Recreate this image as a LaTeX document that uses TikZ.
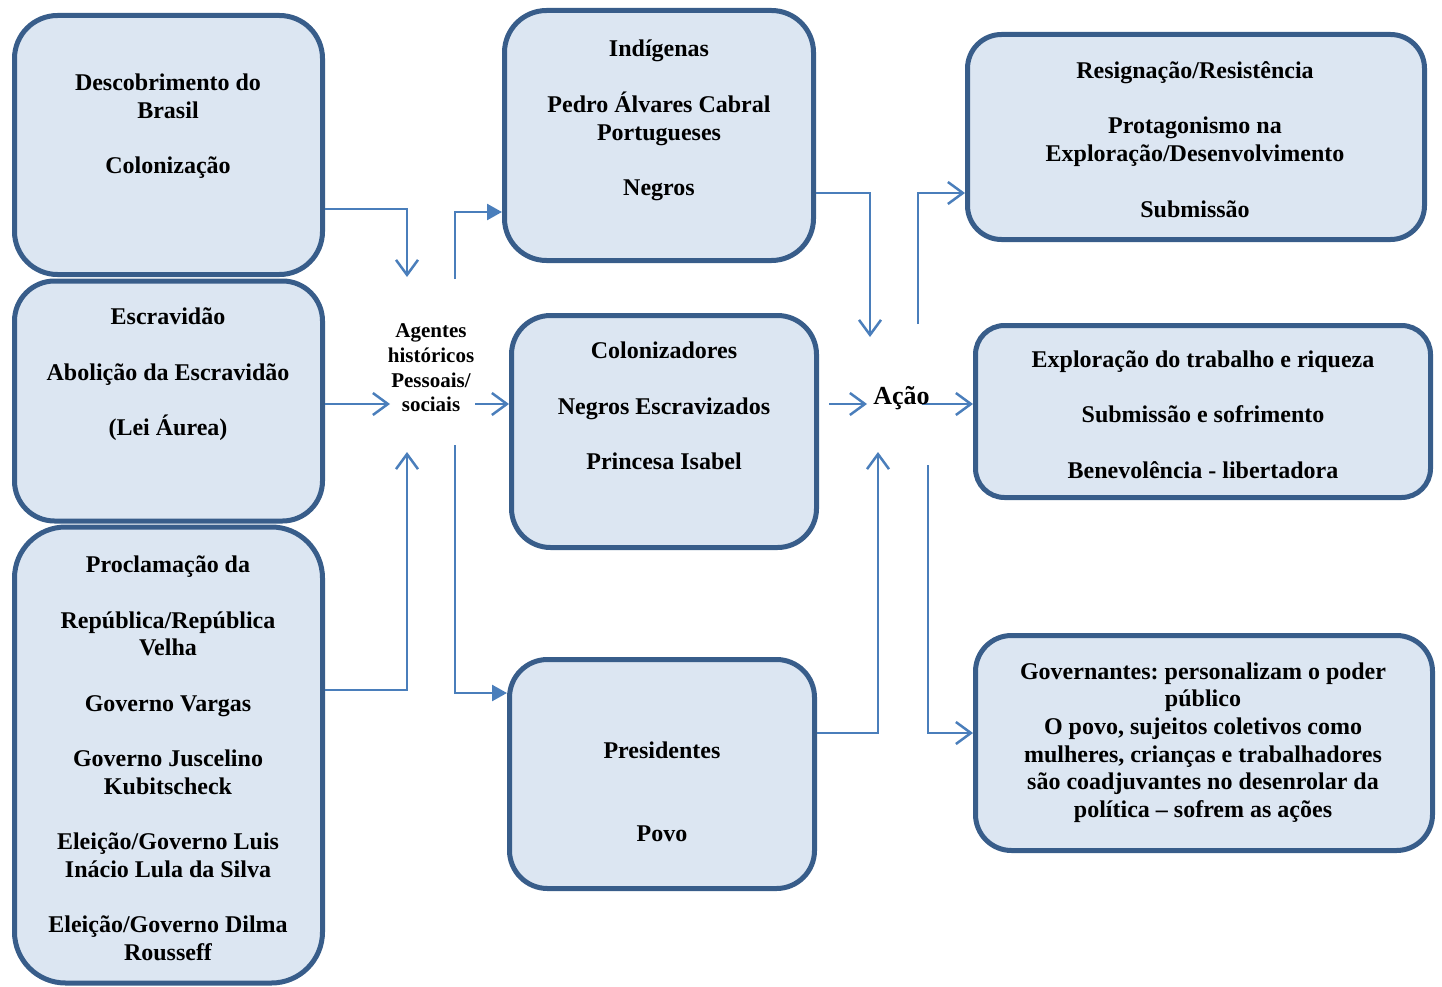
\documentclass[tikz,border=0pt]{standalone}
\usepackage{fontspec}
\setmainfont{Liberation Serif}
\usetikzlibrary{arrows.meta,calc}
\definecolor{boxfill}{HTML}{DCE6F2}
\definecolor{boxline}{HTML}{385D8A}
\definecolor{conncol}{HTML}{4A7EBB}
\frenchspacing
\begin{document}
\begin{tikzpicture}[x=1pt,y=-1pt,
  box/.style={draw=boxline,fill=boxfill,line width=5pt,rectangle,inner sep=0pt},
  txt/.style={font=\fontsize{24}{27.7}\selectfont\bfseries,align=center,inner sep=0pt},
  conn/.style={draw=conncol,line width=2.5pt},
  barb/.style={conn,-{Straight Barb[length=15pt,width=22pt,line width=2.5pt]}},
  tri/.style={conn,-{Triangle[length=15pt,width=16pt]}}
]
\useasboundingbox (0,0) rectangle (1442,987);
% boxes
\node[box,minimum width=308pt,minimum height=259pt,rounded corners=43pt] (b1) at (168.5,145) {};
\node[box,minimum width=308pt,minimum height=240pt,rounded corners=40pt] (b2) at (168.5,401) {};
\node[box,minimum width=308pt,minimum height=456pt,rounded corners=51pt] (b3) at (168.5,755) {};
\node[box,minimum width=309pt,minimum height=250pt,rounded corners=42pt] (b4) at (659,135.5) {};
\node[box,minimum width=305pt,minimum height=232pt,rounded corners=39pt] (b5) at (664,431.5) {};
\node[box,minimum width=305pt,minimum height=229pt,rounded corners=38pt] (b6) at (662,774) {};
\node[box,minimum width=457pt,minimum height=205pt,rounded corners=34pt] (b7) at (1196,137) {};
\node[box,minimum width=455pt,minimum height=172pt,rounded corners=29pt] (b8) at (1203,411.5) {};
\node[box,minimum width=457pt,minimum height=215pt,rounded corners=36pt] (b9) at (1204,743) {};
% free ends
\coordinate (tA1) at (407,277);
\coordinate (tA2) at (390,404);
\coordinate (tA3) at (407,452);
\coordinate (sA1) at (455,279);
\coordinate (sA2) at (475,404);
\coordinate (sA3) at (455,445);
\coordinate (tB1) at (870,337);
\coordinate (sB0) at (829,404);
\coordinate (tB2) at (867,404);
\coordinate (tB3) at (878,452);
\coordinate (sB1) at (918,324);
\coordinate (sB2) at (922,404);
\coordinate (sB3) at (928,465);
% connectors
\draw[barb] ([yshift=-64pt]b1.east) -| (tA1);
\draw[barb] ([yshift=-3pt]b2.east) -- (tA2);
\draw[barb] ([yshift=65pt]b3.east) -| (tA3);
\draw[tri] (sA1) |- ([yshift=-76.5pt]b4.west);
\draw[barb] (sA2) -- ([yshift=27.5pt]b5.west);
\draw[tri] (sA3) |- ([yshift=81pt]b6.west);
\draw[barb] ([yshift=-57.5pt]b4.east) -| (tB1);
\draw[barb] (sB0) -- (tB2);
\draw[barb] ([yshift=41pt]b6.east) -| (tB3);
\draw[barb] (sB1) |- ([yshift=-56pt]b7.west);
\draw[barb] (sB2) -- ([yshift=7.5pt]b8.west);
\draw[barb] (sB3) |- ([yshift=10pt]b9.west);
% texts
\node[txt] (l1) at (168,126) {Descobrimento do\\Brasil\\[27.7pt]Colonização};
\node[txt] (l2) at (168,374.5) {Escravidão\\[27.7pt]Abolição da Escravidão\\[27.7pt](Lei Áurea)};
\node[txt] (l3) at (168,758.5) {Proclamação da\\[27.7pt]República/República\\Velha\\[27.7pt]Governo Vargas\\[27.7pt]Governo Juscelino\\Kubitscheck\\[27.7pt]Eleição/Governo Luis\\Inácio Lula da Silva\\[27.7pt]Eleição/Governo Dilma\\Rousseff};
\node[txt] (l4) at (659,120.5) {Indígenas\\[27.7pt]Pedro Álvares Cabral\\Portugueses\\[27.7pt]Negros};
\node[txt] (l5) at (664,406) {Colonizadores\\[27.7pt]Negros Escravizados\\[27.7pt]Princesa Isabel};
\node[txt] (l6) at (662,792) {Presidentes\\[55.4pt]Povo};
\node[txt] (l7) at (1195,139.5) {Resignação/Resistência\\[27.7pt]Protagonismo na\\Exploração/Desenvolvimento\\[27.7pt]Submissão};
\node[txt] (l8) at (1203,414.5) {Exploração do trabalho e riqueza\\[27.7pt]Submissão e sofrimento\\[27.7pt]Benevolência - libertadora};
\node[txt] (l9) at (1203,742.5) {Governantes: personalizam o poder\\público\\O povo, sujeitos coletivos como\\mulheres, crianças e trabalhadores\\são coadjuvantes no desenrolar da\\política – sofrem as ações};
\node[txt,font=\fontsize{21}{24.7}\selectfont\bfseries] (ag) at (431,368) {Agentes\\históricos\\Pessoais/\\sociais};
\node[txt,font=\fontsize{26}{30}\selectfont\bfseries] (acao) at (901.5,398) {Ação};
\end{tikzpicture}
\end{document}
